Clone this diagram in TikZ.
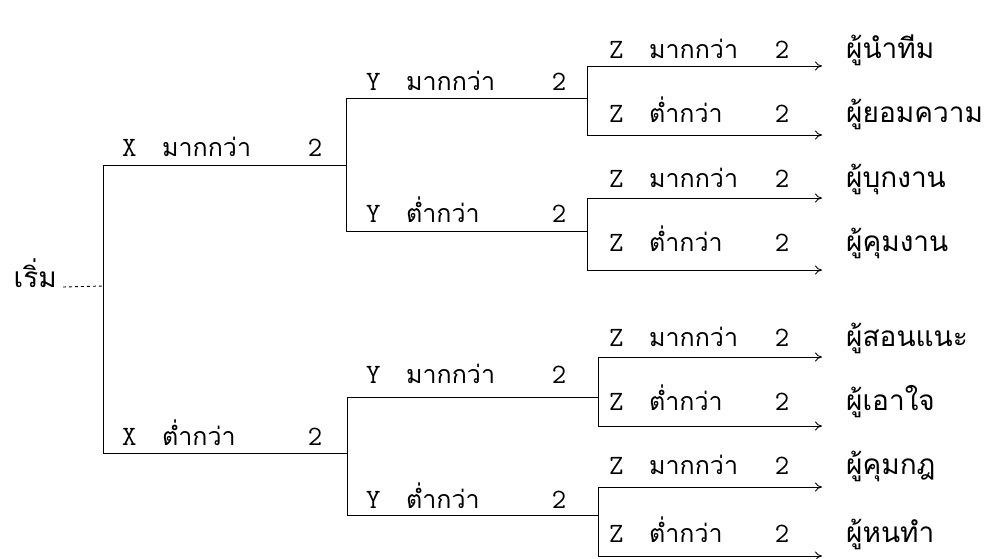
\documentclass[tikz,border=0pt]{standalone}
\usepackage{fontspec}
\newfontfamily\thai[Script=Thai]{Loma}
\usepackage{tikz}
\usetikzlibrary{calc}
\usetikzlibrary{arrows}
\usetikzlibrary{arrows.meta}

\tikzset{
  lab/.style={anchor=base west, inner sep=0pt, font=\fontsize{28}{32}\selectfont\ttfamily},
  leaf/.style={anchor=base west, inner sep=0pt, font=\fontsize{28}{32}\selectfont\thai},
  branch/.style={line width=0.9pt},
}

% letter, word and the 2 of one condition
\newcommand{\cond}[5]{\node[lab] (#1) at (#2) {\makebox[#5][l]{\makebox[40pt][l]{#3}{\fontsize{25}{30}\selectfont\thai #4}\hfill 2}};}

\begin{document}
\begin{tikzpicture}[x=1pt, y=-1pt, >={To[length=7pt,width=9pt]}]
        \useasboundingbox (0,0) rectangle (985,559);

        % start
        \node[leaf, anchor=base east] (start) at (57,287) {เริ่ม};
        \coordinate (x0) at (103,286);
        \draw[branch, dashed] ([xshift=6pt]start.base east) -- (x0);

        % first level
        \coordinate (x1) at (103,165);
        \coordinate (x2) at (103,453);
        \draw[branch] (x1) -- (x2);

        % second level
        \coordinate (y1) at (346,98);
        \coordinate (y2) at (346,231);
        \coordinate (y3) at (347,397);
        \coordinate (y4) at (347,515);
        \draw[branch] (x1) -- (x1 -| y1);
        \draw[branch] (x2) -- (x2 -| y3);
        \draw[branch] (y1) -- (y2);
        \draw[branch] (y3) -- (y4);

        % third level
        \coordinate (z1) at (587,66);
        \coordinate (z2) at (587,135);
        \coordinate (z3) at (587,198);
        \coordinate (z4) at (587,270);
        \coordinate (z5) at (598,357);
        \coordinate (z6) at (598,426);
        \coordinate (z7) at (598,487);
        \coordinate (z8) at (598,556);
        \draw[branch] (y1) -- (y1 -| z1);
        \draw[branch] (y2) -- (y2 -| z3);
        \draw[branch] (y3) -- (y3 -| z5);
        \draw[branch] (y4) -- (y4 -| z7);
        \draw[branch] (z1) -- (z2);
        \draw[branch] (z3) -- (z4);
        \draw[branch] (z5) -- (z6);
        \draw[branch] (z7) -- (z8);

        \coordinate (tip) at (822,0);
        \foreach \i in {1,...,8}
            \draw[branch, ->] (z\i) -- (z\i -| tip);

        % conditions
        \cond{xmore}{122,157}{X}{มากกว่า}{200pt}
        \cond{xless}{122,445}{X}{ต่ำกว่า}{200pt}
        \cond{ymore1}{366,91}{Y}{มากกว่า}{200pt}
        \cond{yless1}{366,222}{Y}{ต่ำกว่า}{200pt}
        \cond{ymore2}{366,383}{Y}{มากกว่า}{200pt}
        \cond{yless2}{366,508}{Y}{ต่ำกว่า}{200pt}
        \cond{zmore1}{609,59}{Z}{มากกว่า}{180pt}
        \cond{zless1}{609,123}{Z}{ต่ำกว่า}{180pt}
        \cond{zmore2}{609,187}{Z}{มากกว่า}{180pt}
        \cond{zless2}{609,251}{Z}{ต่ำกว่า}{180pt}
        \cond{zmore3}{609,346}{Z}{มากกว่า}{180pt}
        \cond{zless3}{609,410}{Z}{ต่ำกว่า}{180pt}
        \cond{zmore4}{609,474}{Z}{มากกว่า}{180pt}
        \cond{zless4}{609,542}{Z}{ต่ำกว่า}{180pt}

        % results
        \node[leaf] (lead) at (846,59) {ผู้นำทีม};
        \node[leaf] (yield) at (846,123) {ผู้ยอมความ};
        \node[leaf] (push) at (846,187) {ผู้บุกงาน};
        \node[leaf] (boss) at (846,251) {ผู้คุมงาน};
        \node[leaf] (coach) at (846,346) {ผู้สอนแนะ};
        \node[leaf] (please) at (846,410) {ผู้เอาใจ};
        \node[leaf] (rules) at (846,474) {ผู้คุมกฎ};
        \node[leaf] (bear) at (846,542) {ผู้หนทำ};
\end{tikzpicture}
\end{document}
